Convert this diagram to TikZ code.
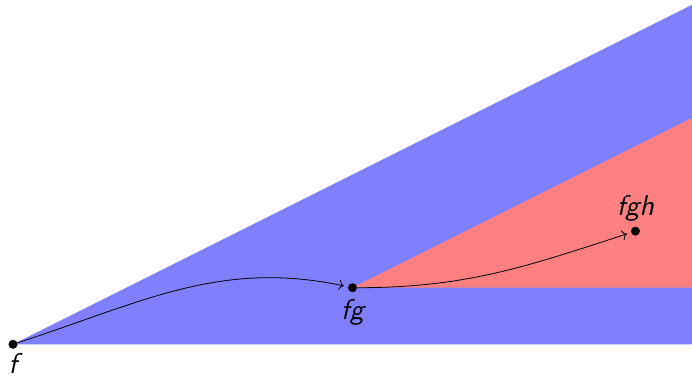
\documentclass[tikz,border=0pt]{standalone}
\usepackage{fontspec}
\usepackage{tikz}
\usetikzlibrary{arrows.meta,positioning}

\begin{document}
\begin{tikzpicture}[
  pt/.style={circle, fill=black, minimum size=1.6mm, inner sep=0pt},
  lbl/.style={font=\Large\sffamily\itshape},
  move/.style={draw, ->, thin, shorten >=2pt}
]
\useasboundingbox (-0.23,-0.56) rectangle (12,6.085);
% cones
\fill[blue!50] (0,0) -- (12,6) -- (12,0) -- cycle;
\fill[red!50] (6,1) -- (12,4) -- (12,1) -- cycle;
% points
\node[pt, label={[lbl, inner sep=2pt]below:f}] (f) at (0,0) {};
\node[pt, label={[lbl, inner sep=3pt]below:fg}] (fg) at (6,1) {};
\node[pt, label={[lbl, inner sep=2pt]above:fgh}] (fgh) at (11,2) {};
% moves
\draw[move] (f) to[out=18, in=168] (fg);
\draw[move] (fg) to[out=0, in=198] (fgh);
\end{tikzpicture}
\end{document}
